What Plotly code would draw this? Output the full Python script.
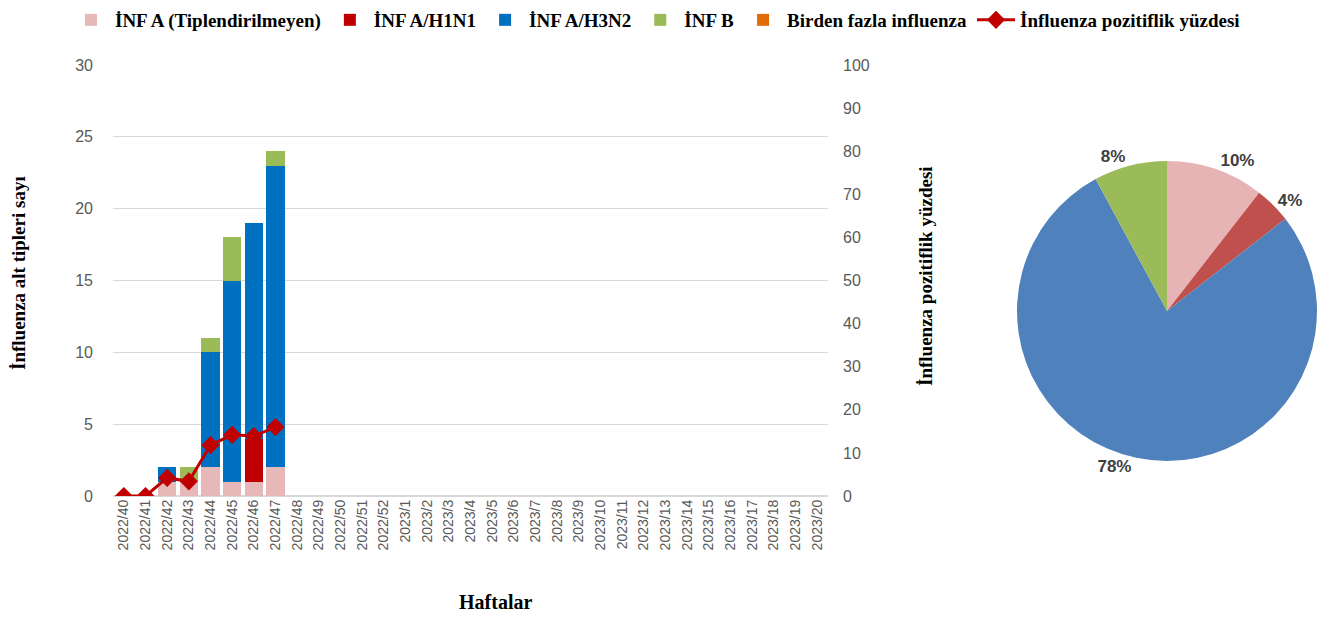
import plotly.graph_objects as go

# haftalar
weeks = [f"2022/{w}" for w in range(40, 53)] + [f"2023/{w}" for w in range(1, 21)]

# alt tip sayıları (2022/40 - 2022/47), sonrası boş
untyped = [0, 0, 1, 1, 2, 1, 1, 2]
h1n1 = [0, 0, 0, 0, 0, 0, 3, 0]
h3n2 = [0, 0, 1, 0, 8, 14, 15, 21]
inf_b = [0, 0, 0, 1, 1, 3, 0, 1]
multi = [0, 0, 0, 0, 0, 0, 0, 0]
positivity = [0, 0, 4.2, 3.4, 11.8, 14.2, 13.9, 16.0]

pie_labels = ["İNF A (Tiplendirilmeyen)", "İNF A/H1N1", "İNF A/H3N2", "İNF B", "Birden fazla influenza"]
pie_values = [sum(untyped), sum(h1n1), sum(h3n2), sum(inf_b), sum(multi)]
pie_text = ["10%", "4%", "78%", "8%", ""]

BAR_COLORS = ["#E6B9B8", "#C00000", "#0070C0", "#9BBB59", "#E36C09"]
PIE_COLORS = ["#E6B4B4", "#C0504D", "#4F81BD", "#9BBB59", "#F79646"]
LINE_COLOR = "#C00000"
TICK_FONT = dict(family="Liberation Sans, Arial", size=16, color="#595959")
SERIF_BOLD = "Liberation Serif, Times New Roman"

W, H = 1332, 617
OX, OY = 8, 7  # sayfa kenar boşluğu telafisi


def fx(v):
    return (v - OX) / W


def fy(v):
    return 1 - (v - OY) / H


fig = go.Figure()

for name, vals, col in zip(pie_labels, [untyped, h1n1, h3n2, inf_b, multi], BAR_COLORS):
    fig.add_trace(go.Bar(
        x=weeks[:len(vals)],
        y=vals,
        name=name,
        marker=dict(color=col, line=dict(width=0)),
        xaxis="x", yaxis="y",
    ))

fig.add_trace(go.Scatter(
    x=weeks[:len(positivity)],
    y=positivity,
    name="İnfluenza pozitiflik yüzdesi",
    mode="lines+markers",
    line=dict(color=LINE_COLOR, width=3),
    marker=dict(symbol="diamond", size=14, color=LINE_COLOR),
    xaxis="x", yaxis="y2",
))

fig.add_trace(go.Pie(
    labels=pie_labels,
    values=pie_values,
    text=pie_text,
    marker=dict(colors=PIE_COLORS, line=dict(width=0)),
    sort=False,
    direction="clockwise",
    rotation=0,
    textposition="outside",
    textinfo="text",
    textfont=dict(family="Liberation Sans, Arial", size=17, color="#404040", weight="bold"),
    domain=dict(x=[fx(1017), fx(1317)], y=[fy(460), fy(160)]),
    showlegend=False,
    automargin=False,
    hoverinfo="label+value+percent",
))

fig.update_layout(
    width=W, height=H,
    paper_bgcolor="white", plot_bgcolor="white",
    margin=dict(l=0, r=0, t=0, b=0, autoexpand=False),
    barmode="stack",
    bargap=0.16,
    xaxis=dict(
        domain=[fx(113), fx(828)],
        categoryorder="array", categoryarray=weeks,
        range=[-0.5, len(weeks) - 0.5],
        tickangle=-90,
        tickfont=dict(family="Liberation Sans, Arial", size=14, color="#595959"),
        showline=False, showgrid=False, ticks="",
        anchor="y", automargin=False,
    ),
    yaxis=dict(
        domain=[fy(495), fy(64)],
        range=[0, 30], dtick=5,
        tickfont=TICK_FONT,
        showgrid=True, gridcolor="#D9D9D9", gridwidth=1,
        zeroline=True, zerolinecolor="#D9D9D9",
        showline=False, ticks="", ticklabelstandoff=19, automargin=False,
    ),
    yaxis2=dict(
        overlaying="y", side="right", anchor="x",
        range=[0, 100], dtick=10,
        tickfont=TICK_FONT,
        showgrid=False, zeroline=False, showline=False, ticks="",
        ticklabelstandoff=14, automargin=False,
    ),
    legend=dict(
        orientation="h", x=fx(67), y=fy(0), yanchor="top", xanchor="left",
        traceorder="normal",
        font=dict(family=SERIF_BOLD, size=19, color="#000000", weight="bold"),
        itemwidth=38, tracegroupgap=0,
    ),
    annotations=[
        dict(text="<b>İnfluenza alt tipleri sayı</b>", x=fx(18), y=fy(272),
             xref="paper", yref="paper", xanchor="center", yanchor="middle",
             textangle=-90, showarrow=False,
             font=dict(family=SERIF_BOLD, size=19, color="#000000")),
        dict(text="<b>İnfluenza pozitiflik yüzdesi</b>", x=fx(925), y=fy(275),
             xref="paper", yref="paper", xanchor="center", yanchor="middle",
             textangle=-90, showarrow=False,
             font=dict(family=SERIF_BOLD, size=19, color="#000000")),
        dict(text="<b>Haftalar</b>", x=fx(495), y=fy(601),
             xref="paper", yref="paper", xanchor="center", yanchor="middle",
             showarrow=False,
             font=dict(family=SERIF_BOLD, size=20, color="#000000")),
    ],
)

fig.write_html("out.html")
